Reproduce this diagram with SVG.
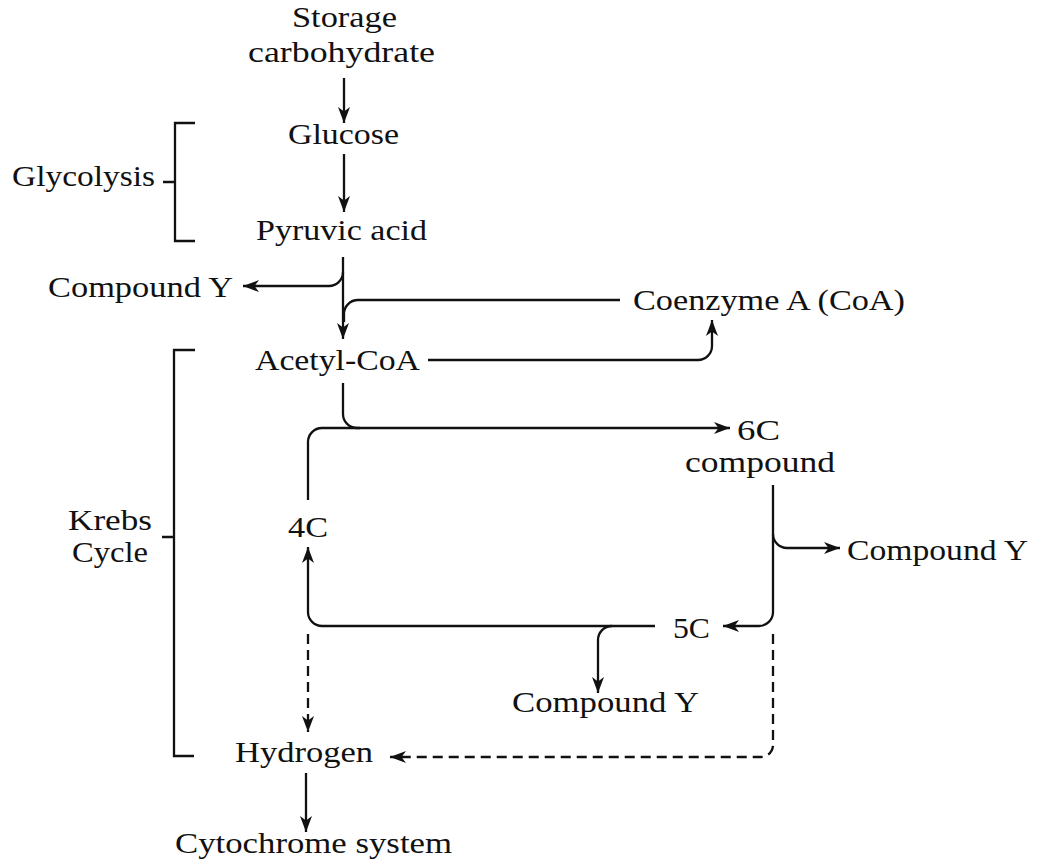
<svg xmlns="http://www.w3.org/2000/svg" width="1039" height="861" viewBox="0 0 1039 861">
<defs>
<marker id="ah" markerUnits="userSpaceOnUse" markerWidth="17" markerHeight="13" viewBox="0 0 17 13" refX="16" refY="6.5" orient="auto">
<path d="M0,0.5 L16,6.5 L0,12.5 L4.5,6.5 z" fill="#111"/>
</marker>
<style>
text{font-family:"Liberation Serif","DejaVu Serif",serif;font-size:29px;fill:#111;}
.c{fill:none;stroke:#111;stroke-width:2.3;}
.a{marker-end:url(#ah);}
.d{stroke-dasharray:10 6;}
</style>
</defs>
<rect width="1039" height="861" fill="#fff"/>
<g id="brackets" class="c">
<path d="M195,123 H175 V241 H195 M163,182 H175"/>
<path d="M195,350 H174 V756 H194 M162,537 H174"/>
</g>
<g id="connectors">
<path class="c a" d="M344,78 V123"/>
<path class="c a" d="M344,154 V212"/>
<path class="c a" d="M343,257 V339"/>
<path class="c a" d="M343,272 A14,14 0 0 1 329,286 H243"/>
<path class="c" d="M620,300 H358 A14,14 0 0 0 344,314 V322"/>
<path class="c a" d="M428,360 H698 A14,14 0 0 0 712,346 V320"/>
<path class="c a" d="M343,383 V414 A14,14 0 0 0 357,428 H730"/>
<path class="c" d="M308,500 V442 A14,14 0 0 1 322,428 H360"/>
<path class="c a" d="M773,485 V612 A14,14 0 0 1 759,626 H723"/>
<path class="c a" d="M773,534 A14,14 0 0 0 787,548 H840"/>
<path class="c a" d="M655,626 H322 A14,14 0 0 1 308,612 V547"/>
<path class="c a" d="M612,626 A14,14 0 0 0 598,640 V693"/>
<path class="c a d" d="M308,634 V732"/>
<path class="c a d" d="M773,634 V745 A12,12 0 0 1 761,757 H390"/>
<path class="c a" d="M306,773 V832"/>
</g>
<g id="n-storage"><text x="292" y="27" textLength="105" lengthAdjust="spacingAndGlyphs">Storage</text><text x="248" y="62" textLength="187" lengthAdjust="spacingAndGlyphs">carbohydrate</text></g>
<g id="n-glucose"><text x="288" y="144" textLength="111" lengthAdjust="spacingAndGlyphs">Glucose</text></g>
<g id="n-pyruvic"><text x="256" y="240" textLength="171" lengthAdjust="spacingAndGlyphs">Pyruvic acid</text></g>
<g id="n-glycolysis"><text x="12" y="186" textLength="143" lengthAdjust="spacingAndGlyphs">Glycolysis</text></g>
<g id="n-compy1"><text x="48" y="297" textLength="185" lengthAdjust="spacingAndGlyphs">Compound Y</text></g>
<g id="n-coa"><text x="633" y="310" textLength="272" lengthAdjust="spacingAndGlyphs">Coenzyme A (CoA)</text></g>
<g id="n-acetyl"><text x="255" y="370" textLength="165" lengthAdjust="spacingAndGlyphs">Acetyl-CoA</text></g>
<g id="n-6c"><text x="737" y="440" textLength="43" lengthAdjust="spacingAndGlyphs">6C</text><text x="685" y="472" textLength="150" lengthAdjust="spacingAndGlyphs">compound</text></g>
<g id="n-krebs"><text x="68" y="530" textLength="84" lengthAdjust="spacingAndGlyphs">Krebs</text><text x="72" y="562" textLength="76" lengthAdjust="spacingAndGlyphs">Cycle</text></g>
<g id="n-4c"><text x="288" y="537" textLength="40" lengthAdjust="spacingAndGlyphs">4C</text></g>
<g id="n-compy2"><text x="847" y="560" textLength="181" lengthAdjust="spacingAndGlyphs">Compound Y</text></g>
<g id="n-5c"><text x="673" y="638" textLength="37" lengthAdjust="spacingAndGlyphs">5C</text></g>
<g id="n-compy3"><text x="512" y="712" textLength="187" lengthAdjust="spacingAndGlyphs">Compound Y</text></g>
<g id="n-hydrogen"><text x="235" y="762" textLength="138" lengthAdjust="spacingAndGlyphs">Hydrogen</text></g>
<g id="n-cyto"><text x="175" y="853" textLength="277" lengthAdjust="spacingAndGlyphs">Cytochrome system</text></g>
</svg>
